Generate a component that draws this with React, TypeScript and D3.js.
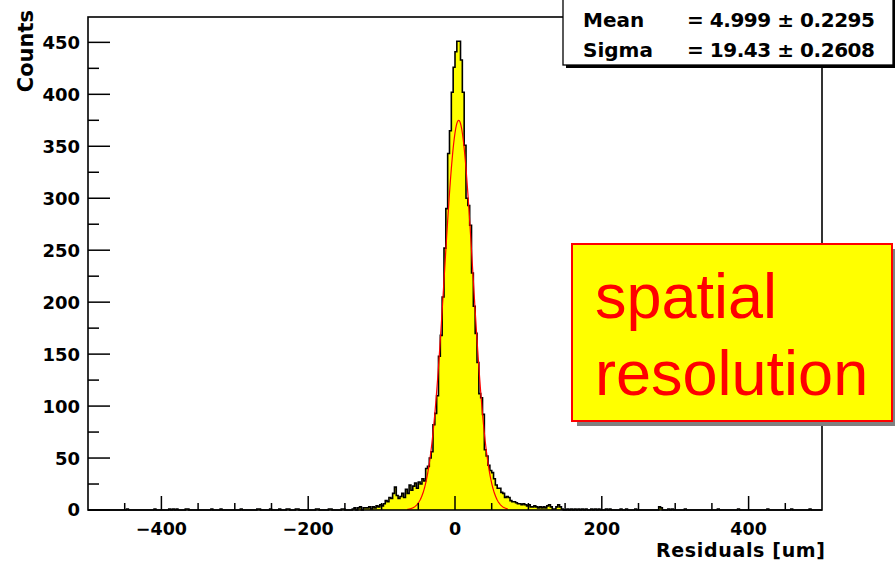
import React from 'react';
import * as d3 from 'd3';

// Histogram binning (um)
const binLow = -500;
const binWidth = 2.5;
const nBins = 400;

// Counts of the dense central bins, starting at coreStart (um), one per 2.5 um bin
const coreStart = -120;
const coreCounts = [
  2, 3, 1, 3, 2, 4, 3, 5, 4, 6,
  9, 8, 12, 11, 16, 22, 14, 11, 13, 16,
  12, 20, 16, 24, 19, 23, 26, 21, 27, 25,
  30, 28, 40, 42, 50, 56, 82, 93, 110, 148,
  168, 205, 252, 290, 343, 365, 402, 426, 441, 451,
  451, 433, 402, 351, 300, 293, 274, 228, 196, 170,
  142, 112, 108, 92, 58, 52, 43, 38, 36, 30,
  24, 21, 21, 17, 16, 12, 13, 12, 9, 8,
  8, 7, 6, 6, 5, 6, 5, 4, 5, 3,
  3, 4, 3, 2, 3, 2, 3, 2, 4, 5,
  3, 1, 1, 3, 5, 3, 1, 0,
];

// Sparse tail entries (bin position in um, counts)
const tailPositions = [
  -446, -410, -389, -384, -379, -367, -364, -332, -318, -292,
  -269, -266, -251, -240, -229, -226, -216, -213, -190, -186,
  -171, -168, -155, -152, -139, -136, -131, -128, -125, -122,
  153, 158, 163, 168, 173, 178, 185, 190, 195, 205,
  210, 226, 233, 245, 278, 281, 291, 296, 314, 358,
  386, 427, 459, 484,
];
const tailCounts = [
  1, 1, 1, 1, 1, 1, 1, 1, 1, 1,
  1, 1, 1, 1, 1, 1, 1, 1, 1, 1,
  1, 1, 1, 1, 1, 2, 2, 3, 2, 2,
  1, 1, 1, 1, 1, 1, 1, 1, 1, 1,
  1, 1, 1, 1, 3, 2, 1, 1, 1, 1,
  1, 1, 1, 1,
];

// Gaussian fit parameters
const fitConstant = 375;
const fitMean = 4.999;
const fitSigma = 19.43;
const fitRange = [-65, 72];

const xMajorTicks = [-400, -200, 0, 200, 400];
const xMinorTicks = [-450, -350, -300, -250, -150, -100, -50, 50, 100, 150, 250, 300, 350, 450];
const yMajorTicks = [0, 50, 100, 150, 200, 250, 300, 350, 400, 450];
const yMinorTicks = [25, 75, 125, 175, 225, 275, 325, 375, 425];

const statNames = ['Mean', 'Sigma'];
const statValues = ['= 4.999 \u00b1 0.2295', '= 19.43 \u00b1 0.2608'];
const noteLines = ['spatial', 'resolution'];

const xTitle = 'Residuals [um]';
const yTitle = 'Counts';

export default function App() {
  const W = 895;
  const H = 561;
  const left = 88, right = 822, top = 17, bottom = 510;

  const x = d3.scaleLinear().domain([-500, 500]).range([left, right]);
  const y = d3.scaleLinear().domain([0, 474.4]).range([bottom, top]);

  const counts: number[] = new Array(nBins).fill(0);
  const coreIdx = Math.round((coreStart - binLow) / binWidth);
  coreCounts.forEach((c, i) => { counts[coreIdx + i] = c; });
  tailPositions.forEach((p, i) => {
    const idx = Math.floor((p - binLow) / binWidth);
    counts[idx] = tailCounts[i];
  });

  const pts: [number, number][] = [];
  counts.forEach((c, i) => {
    const x0 = binLow + i * binWidth;
    pts.push([x0, c], [x0 + binWidth, c]);
  });

  const area = d3.area<[number, number]>()
    .x(d => x(d[0]))
    .y0(y(0))
    .y1(d => y(d[1]));
  const line = d3.line<[number, number]>()
    .x(d => x(d[0]))
    .y(d => y(d[1]));

  const fitPts: [number, number][] = d3.range(fitRange[0], fitRange[1] + 0.001, 0.5).map(u => [
    u,
    fitConstant * Math.exp(-((u - fitMean) ** 2) / (2 * fitSigma * fitSigma)),
  ]);

  const axisFont = '"DejaVu Sans", "Liberation Sans", Arial, sans-serif';

  return (
    <svg width={W} height={H} style={{ position: 'absolute', left: 0, top: 0, background: '#fff' }}>
      <rect x={0} y={0} width={W} height={H} fill="#fff" />
      {/* histogram */}
      <path d={area(pts) || ''} fill="#ffff00" stroke="none" />
      <path d={line(pts) || ''} fill="none" stroke="#000" strokeWidth={1.6} />
      {/* fit */}
      <path d={line(fitPts) || ''} fill="none" stroke="#ff0000" strokeWidth={1.2} />

      {/* frame */}
      <rect x={left} y={top} width={right - left} height={bottom - top} fill="none" stroke="#000" strokeWidth={1.6} />

      {/* x ticks */}
      {xMajorTicks.map(t => (
        <line key={'xM' + t} x1={x(t)} x2={x(t)} y1={bottom} y2={bottom - 14} stroke="#000" strokeWidth={1.5} />
      ))}
      {xMinorTicks.map(t => (
        <line key={'xm' + t} x1={x(t)} x2={x(t)} y1={bottom} y2={bottom - 7} stroke="#000" strokeWidth={1.5} />
      ))}
      {xMajorTicks.map(t => (
        <text key={'xl' + t} x={x(t)} y={535} textAnchor="middle" fontFamily={axisFont} fontWeight="bold" fontSize={17.5} fill="#000">
          {t < 0 ? '\u2212' + Math.abs(t) : String(t)}
        </text>
      ))}

      {/* y ticks */}
      {yMajorTicks.map(t => (
        <line key={'yM' + t} x1={left} x2={left + 22} y1={y(t)} y2={y(t)} stroke="#000" strokeWidth={1.5} />
      ))}
      {yMinorTicks.map(t => (
        <line key={'ym' + t} x1={left} x2={left + 11} y1={y(t)} y2={y(t)} stroke="#000" strokeWidth={1.5} />
      ))}
      {yMajorTicks.map(t => (
        <text key={'yl' + t} x={80} y={y(t)} dy="0.36em" textAnchor="end" fontFamily={axisFont} fontWeight="bold" fontSize={18} fill="#000">
          {String(t)}
        </text>
      ))}

      {/* axis titles */}
      <text x={825} y={557} textAnchor="end" fontFamily={axisFont} fontWeight="bold" fontSize={19} textLength={169} fill="#000">{xTitle}</text>
      <text transform="translate(33,10) rotate(-90)" textAnchor="end" fontFamily={axisFont} fontWeight="bold" fontSize={21} fill="#000">{yTitle}</text>

      {/* stats box */}
      <rect x={566} y={-2} width={330} height={70} fill="#000" />
      <rect x={563} y={-5} width={330} height={70} fill="#fff" stroke="#000" strokeWidth={1.3} />
      {statNames.map((n, i) => (
        <text key={'sn' + i} x={583} y={27 + i * 30} fontFamily={axisFont} fontWeight="bold" fontSize={20} fill="#000">{n}</text>
      ))}
      {statValues.map((v, i) => (
        <text key={'sv' + i} x={687} y={27 + i * 30} fontFamily={axisFont} fontWeight="bold" fontSize={20} textLength={188} fill="#000">{v}</text>
      ))}

      {/* note box */}
      <rect x={577} y={249} width={320} height={177} fill="#808080" />
      <rect x={572} y={244} width={320} height={177} fill="#ffff00" stroke="#ff0000" strokeWidth={2} />
      {noteLines.map((s, i) => (
        <text key={'nl' + i} x={595} y={318 + i * 77} fontFamily='"Liberation Sans", Arial, sans-serif' fontSize={63} fill="#ff0000">{s}</text>
      ))}
    </svg>
  );
}
